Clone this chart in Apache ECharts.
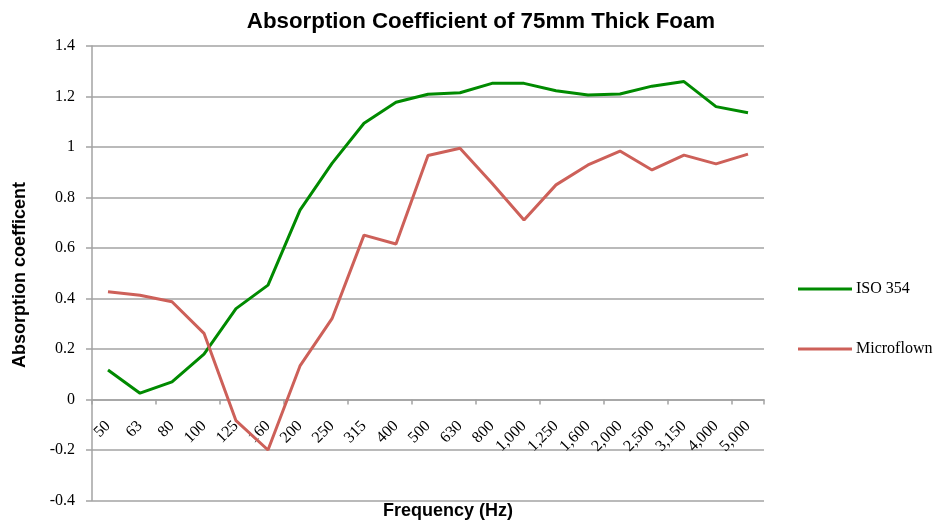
<!DOCTYPE html>
<html><head><meta charset="utf-8">
<script src="https://cdn.jsdelivr.net/npm/echarts@6/dist/echarts.min.js"></script>
<style>html,body{margin:0;padding:0;background:#fff}#c{width:947px;height:523px}</style>
</head><body><div id="c"></div>
<script>
var categories = ['50','63','80','100','125','160','200','250','315','400','500','630','800','1,000','1,250','1,600','2,000','2,500','3,150','4,000','5,000'];
var iso354 = [0.117,0.025,0.07,0.18,0.36,0.453,0.75,0.935,1.094,1.177,1.209,1.215,1.252,1.252,1.223,1.206,1.21,1.241,1.259,1.16,1.136];
var microflown = [0.427,0.413,0.387,0.262,-0.084,-0.2,0.133,0.32,0.651,0.616,0.966,0.995,0.856,0.711,0.85,0.929,0.984,0.909,0.968,0.933,0.972];
var seriesNames = ['ISO 354','Microflown'];

var chart = echarts.init(document.getElementById('c'));
var gridColor = '#a3a3a3';
var serif = 'Liberation Serif, Times New Roman';
chart.setOption({
  animation: false,
  title: {
    text: 'Absorption Coefficient of 75mm Thick Foam',
    left: 476, top: 6, textAlign: 'center',
    textStyle: {fontFamily: 'Liberation Sans, Arial', fontWeight: 'bold', fontSize: 22.3, color: '#000'}
  },
  legend: {
    orient: 'vertical', left: 793, top: 276, itemGap: 44,
    itemWidth: 54, itemHeight: 3, icon: 'rect',
    data: seriesNames,
    textStyle: {fontFamily: serif, fontSize: 16, color: '#000', padding: [0,0,0,-1]}
  },
  grid: {left: 92, right: 183, top: 46, bottom: 22.5, containLabel: false, outerBoundsMode: 'none'},
  xAxis: [{
    type: 'category', data: categories, boundaryGap: true, z: 0,
    axisLine: {onZero: true, lineStyle: {color: gridColor, width: 1.5}},
    axisTick: {show: true, length: 5, lineStyle: {color: gridColor, width: 1.5}},
    axisLabel: {show: false}
  }, {
    type: 'category', data: categories, boundaryGap: true, position: 'bottom', offset: -101, z: 0,
    axisLine: {show: false, onZero: false}, axisTick: {show: false},
    axisLabel: {rotate: 45, margin: 24, interval: 0, fontFamily: serif, fontSize: 16, color: '#000'}
  }],
  yAxis: {
    type: 'value', min: -0.4, max: 1.4, interval: 0.2,
    axisLine: {show: true, lineStyle: {color: gridColor, width: 1.5}},
    axisTick: {show: true, length: 6, lineStyle: {color: gridColor, width: 1.5}},
    splitLine: {lineStyle: {color: gridColor, width: 1.5}},
    axisLabel: {margin: 17, fontFamily: serif, fontSize: 16, color: '#000',
      formatter: function (v) { return String(Math.round(v * 10) / 10); }}
  },
  graphic: [
    {type: 'text', x: 448, y: 511, style: {text: 'Frequency (Hz)', font: 'bold 18px Liberation Sans, Arial', fill: '#000', align: 'center', verticalAlign: 'middle'}},
    {type: 'text', x: 20, y: 275, rotation: Math.PI / 2, style: {text: 'Absorption coefficent', font: 'bold 18px Liberation Sans, Arial', fill: '#000', align: 'center', verticalAlign: 'middle'}}
  ],
  series: [
    {name: seriesNames[0], type: 'line', z: 5, data: iso354, symbol: 'none', lineStyle: {color: '#008a00', width: 3}, itemStyle: {color: '#008a00'}},
    {name: seriesNames[1], type: 'line', z: 5, data: microflown, symbol: 'none', lineStyle: {color: '#cd6059', width: 3}, itemStyle: {color: '#cd6059'}}
  ]
});
</script></body></html>
